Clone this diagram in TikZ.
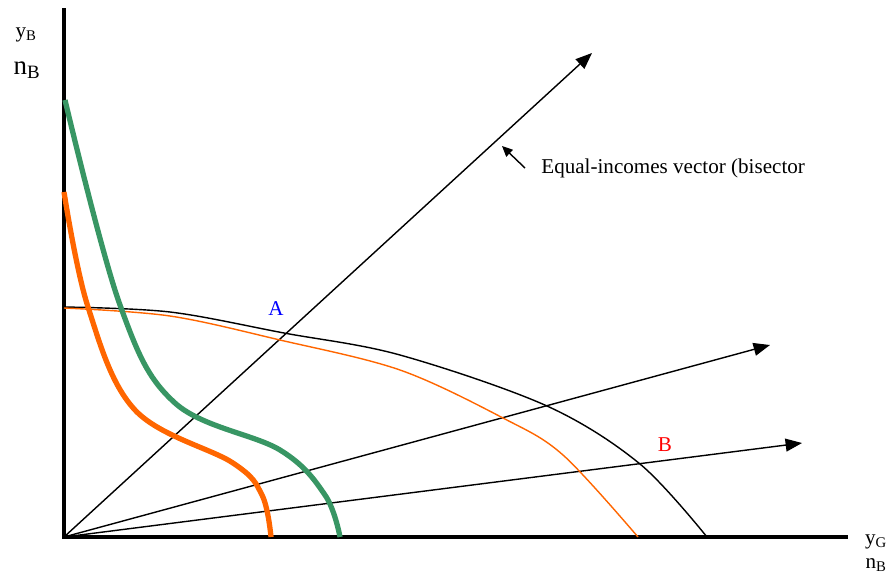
\documentclass[tikz,border=0pt]{standalone}
\usepackage{fontspec}
\setmainfont{Liberation Serif}
\usetikzlibrary{arrows.meta}
\definecolor{curvegreen}{RGB}{56, 150, 100}
\definecolor{curveorange}{RGB}{255, 102, 0}
\definecolor{labelblue}{RGB}{0, 0, 255}
\definecolor{labelred}{RGB}{255, 0, 0}

\begin{document}
\begin{tikzpicture}[
  x=0.03cm, y=-0.03cm,
  axis/.style={line width=2.8pt, black},
  vec/.style={line width=1.2pt, black, -{Triangle[length=14pt, width=11pt]}},
  frontier/.style={line width=1.2pt, black},
  thinorange/.style={line width=1.2pt, curveorange},
  thickgreen/.style={line width=4.5pt, curvegreen},
  thickorange/.style={line width=4.5pt, curveorange},
  lbl/.style={font=\fontsize{18}{20}\selectfont, inner sep=1pt}
]
\useasboundingbox (0,0) rectangle (890,577);

% axes
\coordinate (O)    at (64,537);
\coordinate (ytop) at (64,8);
\coordinate (xend) at (848,537);
\draw[axis] (ytop) -- (O) -- (xend);

% axis labels
\node[lbl] (yB) at (26,35) {y\textsubscript{B}};
\node[lbl, font=\fontsize{23}{25}\selectfont] (nB) at (27,70) {n\textsubscript{B}};
\node[lbl] (yG) at (876,542) {y\textsubscript{G}};
\node[lbl] (nB2) at (876,565) {n\textsubscript{B}};

% vectors from the origin
\coordinate (bis) at (592,53);
\coordinate (v2)  at (770,345);
\coordinate (v3)  at (802,443);
\draw[vec] (O) -- (bis);
\draw[vec] (O) -- (v2);
\draw[vec] (O) -- (v3);

% label for the bisector
\node[lbl, anchor=west] (eq) at (540,168) {Equal-incomes vector (bisector};
\coordinate (eqtail) at (525,168);
\coordinate (eqtip)  at (502,146);
\draw[line width=1.2pt, -{Triangle[length=9pt, width=8pt]}] (eqtail) -- (eqtip);

% possibility frontiers
\draw[frontier] plot[smooth, tension=0.55] coordinates
  {(64,307) (170,312) (284,333) (400,355) (547,406) (640,464) (707,537)};
\draw[thinorange] plot[smooth, tension=0.55] coordinates
  {(64,308) (170,316) (280,340) (400,370) (503,418) (563,455) (638,537)};

% thick curves
\draw[thickgreen] plot[smooth, tension=0.6] coordinates
  {(65,100) (120,305) (175,403) (280,450) (325,495) (340,537)};
\draw[thickorange] plot[smooth, tension=0.6] coordinates
  {(64,192) (88,307) (135,410) (233,463) (262,495) (271,537)};

% point labels
\node[lbl, text=labelblue] (A) at (276,309) {A};
\node[lbl, text=labelred]  (B) at (665,445) {B};
\end{tikzpicture}
\end{document}
